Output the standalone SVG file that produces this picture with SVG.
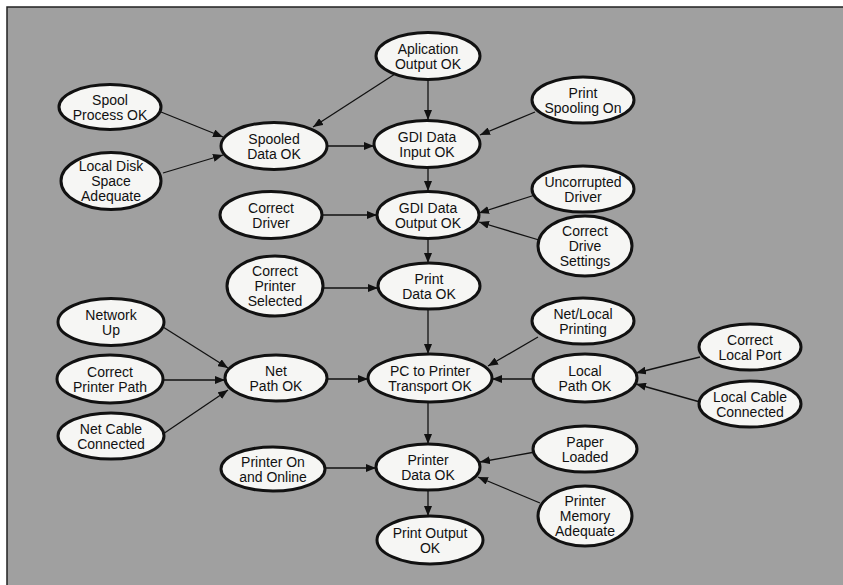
<svg xmlns="http://www.w3.org/2000/svg" width="843" height="585" viewBox="0 0 843 585">
<defs>
<marker id="ah" markerUnits="userSpaceOnUse" markerWidth="11" markerHeight="8" refX="10" refY="4" orient="auto">
<path d="M0,0 L10,4 L0,8 z" fill="#111"/>
</marker>
</defs>
<style>
.n ellipse{fill:#f6f6f4;stroke:#111;stroke-width:3}
.n text{font-family:"Liberation Sans",Arial,sans-serif;font-size:14px;fill:#111;text-anchor:middle}
#edges line{stroke:#111;stroke-width:1.3;marker-end:url(#ah)}
</style>
<rect x="0" y="0" width="843" height="585" fill="#ffffff"/>
<rect x="7" y="7" width="840" height="582" fill="#a0a0a0" stroke="#222" stroke-width="1.5"/>
<g id="edges">
<line x1="395" y1="74" x2="313" y2="127"/>
<line x1="428" y1="80" x2="428" y2="120"/>
<line x1="161" y1="112" x2="223" y2="137"/>
<line x1="163" y1="173" x2="223" y2="155"/>
<line x1="327" y1="146" x2="374" y2="146"/>
<line x1="535" y1="112" x2="480" y2="135"/>
<line x1="428" y1="168" x2="428" y2="191"/>
<line x1="322" y1="215" x2="377" y2="215"/>
<line x1="535" y1="195" x2="479" y2="213"/>
<line x1="539" y1="240" x2="479" y2="222"/>
<line x1="428" y1="239" x2="428" y2="263"/>
<line x1="323" y1="288" x2="378" y2="288"/>
<line x1="428" y1="309" x2="428" y2="354"/>
<line x1="163" y1="327" x2="228" y2="368"/>
<line x1="163" y1="380" x2="225" y2="380"/>
<line x1="163" y1="434" x2="228" y2="390"/>
<line x1="327" y1="379" x2="368" y2="379"/>
<line x1="538" y1="337" x2="488" y2="366"/>
<line x1="533" y1="379" x2="492" y2="379"/>
<line x1="700" y1="357" x2="636" y2="373"/>
<line x1="700" y1="402" x2="636" y2="384"/>
<line x1="428" y1="402" x2="428" y2="444"/>
<line x1="325" y1="468" x2="376" y2="468"/>
<line x1="535" y1="452" x2="480" y2="462"/>
<line x1="540" y1="503" x2="478" y2="477"/>
<line x1="428" y1="490" x2="428" y2="516"/>
</g>
<g id="app" class="n"><ellipse cx="428" cy="56" rx="52" ry="23.5"/><text x="428" y="54">Aplication</text><text x="428" y="69">Output OK</text></g>
<g id="spoolproc" class="n"><ellipse cx="110" cy="107" rx="51" ry="22.5"/><text x="110" y="105">Spool</text><text x="110" y="120">Process OK</text></g>
<g id="printspool" class="n"><ellipse cx="583" cy="100" rx="51" ry="23"/><text x="583" y="98">Print</text><text x="583" y="113">Spooling On</text></g>
<g id="spooled" class="n"><ellipse cx="274" cy="146" rx="53" ry="23.5"/><text x="274" y="144">Spooled</text><text x="274" y="159">Data OK</text></g>
<g id="gdiin" class="n"><ellipse cx="427" cy="144" rx="53" ry="23.5"/><text x="427" y="142">GDI Data</text><text x="427" y="157">Input OK</text></g>
<g id="localdisk" class="n"><ellipse cx="111" cy="181" rx="50" ry="28.5"/><text x="111" y="171">Local Disk</text><text x="111" y="186">Space</text><text x="111" y="201">Adequate</text></g>
<g id="uncorrupted" class="n"><ellipse cx="583" cy="189" rx="51" ry="23"/><text x="583" y="187">Uncorrupted</text><text x="583" y="202">Driver</text></g>
<g id="correctdriver" class="n"><ellipse cx="271" cy="215" rx="51" ry="23.5"/><text x="271" y="213">Correct</text><text x="271" y="228">Driver</text></g>
<g id="gdiout" class="n"><ellipse cx="428" cy="215" rx="51" ry="23.5"/><text x="428" y="213">GDI Data</text><text x="428" y="228">Output OK</text></g>
<g id="drivesettings" class="n"><ellipse cx="585" cy="246" rx="47" ry="30"/><text x="585" y="236">Correct</text><text x="585" y="251">Drive</text><text x="585" y="266">Settings</text></g>
<g id="printerselected" class="n"><ellipse cx="275" cy="286" rx="48" ry="30"/><text x="275" y="276">Correct</text><text x="275" y="291">Printer</text><text x="275" y="306">Selected</text></g>
<g id="printdata" class="n"><ellipse cx="429" cy="286" rx="51" ry="23"/><text x="429" y="284">Print</text><text x="429" y="299">Data OK</text></g>
<g id="networkup" class="n"><ellipse cx="111" cy="322" rx="53" ry="23.5"/><text x="111" y="320">Network</text><text x="111" y="335">Up</text></g>
<g id="netlocal" class="n"><ellipse cx="583" cy="321" rx="51" ry="23"/><text x="583" y="319">Net/Local</text><text x="583" y="334">Printing</text></g>
<g id="localport" class="n"><ellipse cx="750" cy="347" rx="51" ry="23"/><text x="750" y="345">Correct</text><text x="750" y="360">Local Port</text></g>
<g id="printerpath" class="n"><ellipse cx="110" cy="379" rx="53" ry="24"/><text x="110" y="377">Correct</text><text x="110" y="392">Printer Path</text></g>
<g id="netpath" class="n"><ellipse cx="276" cy="378" rx="51" ry="23"/><text x="276" y="376">Net</text><text x="276" y="391">Path OK</text></g>
<g id="transport" class="n"><ellipse cx="430" cy="378" rx="62" ry="24"/><text x="430" y="376">PC to Printer</text><text x="430" y="391">Transport OK</text></g>
<g id="localpath" class="n"><ellipse cx="585" cy="378" rx="52" ry="24"/><text x="585" y="376">Local</text><text x="585" y="391">Path OK</text></g>
<g id="localcable" class="n"><ellipse cx="750" cy="404" rx="51" ry="23"/><text x="750" y="402">Local Cable</text><text x="750" y="417">Connected</text></g>
<g id="netcable" class="n"><ellipse cx="111" cy="436" rx="53" ry="23"/><text x="111" y="434">Net Cable</text><text x="111" y="449">Connected</text></g>
<g id="printeron" class="n"><ellipse cx="273" cy="469" rx="52" ry="22"/><text x="273" y="467">Printer On</text><text x="273" y="482">and Online</text></g>
<g id="printerdata" class="n"><ellipse cx="428" cy="467" rx="52" ry="23"/><text x="428" y="465">Printer</text><text x="428" y="480">Data OK</text></g>
<g id="paperloaded" class="n"><ellipse cx="585" cy="449" rx="52" ry="23"/><text x="585" y="447">Paper</text><text x="585" y="462">Loaded</text></g>
<g id="printermemory" class="n"><ellipse cx="585" cy="516" rx="47" ry="30"/><text x="585" y="506">Printer</text><text x="585" y="521">Memory</text><text x="585" y="536">Adequate</text></g>
<g id="printoutput" class="n"><ellipse cx="430" cy="540" rx="53" ry="24"/><text x="430" y="538">Print Output</text><text x="430" y="553">OK</text></g>
</svg>
